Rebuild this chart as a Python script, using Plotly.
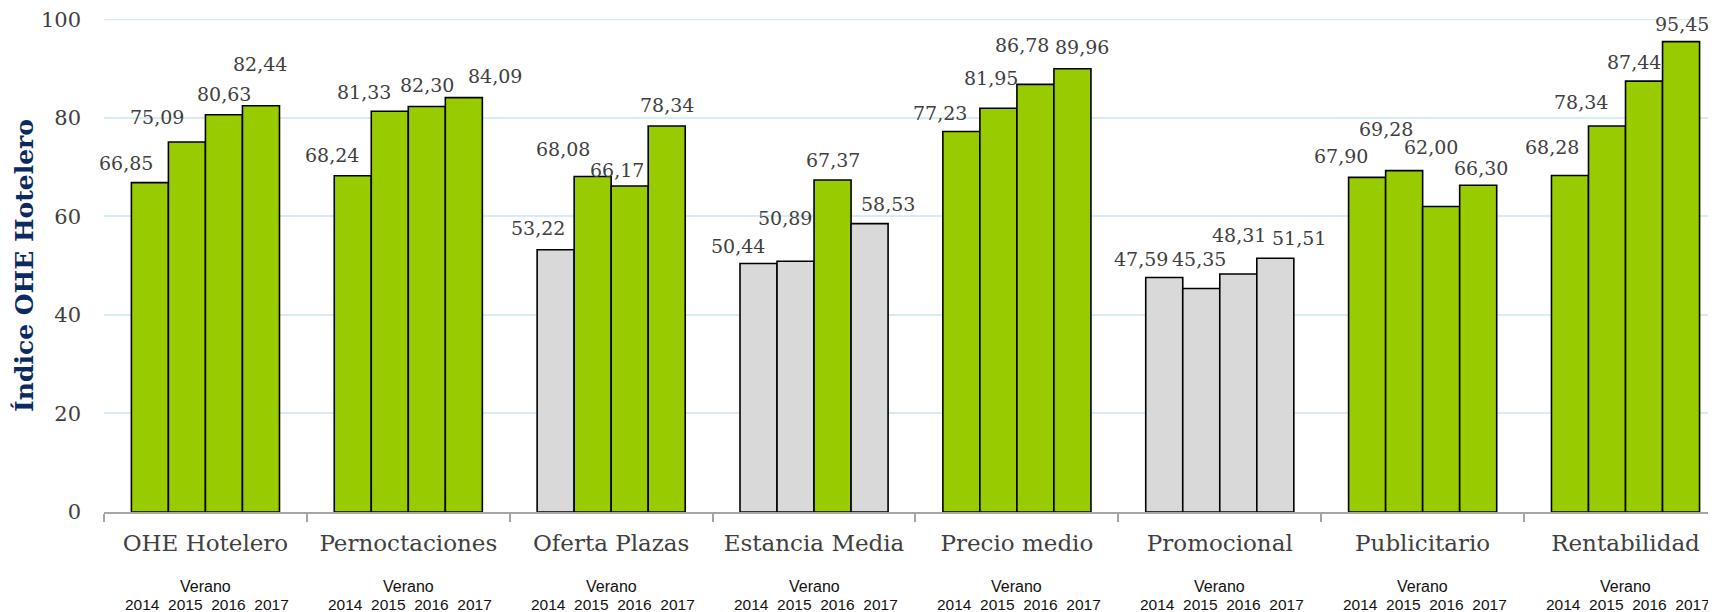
import plotly.graph_objects as go

categories = ["OHE Hotelero", "Pernoctaciones", "Oferta Plazas", "Estancia Media",
              "Precio medio", "Promocional", "Publicitario", "Rentabilidad"]
years = ["2014", "2015", "2016", "2017"]
v2014 = [66.85, 68.24, 53.22, 50.44, 77.23, 47.59, 67.90, 68.28]
v2015 = [75.09, 81.33, 68.08, 50.89, 81.95, 45.35, 69.28, 78.34]
v2016 = [80.63, 82.30, 66.17, 67.37, 86.78, 48.31, 62.00, 87.44]
v2017 = [82.44, 84.09, 78.34, 58.53, 89.96, 51.51, 66.30, 95.45]
series = [v2014, v2015, v2016, v2017]
y_ticks = [0, 20, 40, 60, 80, 100]
threshold = 60

# pixel nudges of the value labels (as manually placed in the original)
label_dx = [[-24, -30, 0, -1], [-21, -26, 0, 31], [-18, -30, -13, 0], [-21, -11, 0, 18],
            [-21, -7, -13, 10], [-23, -2, 1, 24], [-26, -18, -10, 3], [-18, -26, -10, 1]]
label_dy = [[20, 25, 21, 42], [21, 19, 21, 22], [22, 28, 16, 21], [17, 43, 20, 20],
            [18, 30, 39, 22], [19, 30, 39, 20], [21, 42, 59, 17], [29, 24, 19, 18]]

GREEN = "#99CC00"
GRAY = "#D9D9D9"
TXT = "#404040"
SERIF = "DejaVu Serif"
GRID = "#D9ECF5"

bargap = 0.27
fig = go.Figure()
for yi, vals in enumerate(series):
    fig.add_trace(go.Bar(
        x=categories, y=vals, name="Verano " + years[yi],
        marker=dict(color=[GREEN if v >= threshold else GRAY for v in vals],
                    line=dict(color="black", width=1.6)),
        showlegend=False, hoverinfo="x+y+name"))

bw = (1 - bargap) / len(series)
annotations = []
for gi, cat in enumerate(categories):
    for yi, vals in enumerate(series):
        v = vals[gi]
        annotations.append(dict(
            x=gi + (yi - 1.5) * bw, y=v, xref="x", yref="y",
            text=f"{v:.2f}".replace(".", ","), showarrow=False,
            xanchor="center", yanchor="middle",
            xshift=label_dx[gi][yi], yshift=label_dy[gi][yi],
            font=dict(family=SERIF, size=19, color=TXT)))
    annotations.append(dict(
        x=gi, y=0, xref="x", yref="paper", text="Verano", showarrow=False,
        xanchor="center", yanchor="middle", yshift=-74,
        font=dict(family="Liberation Sans", size=16, color="#111111")))
    annotations.append(dict(
        x=gi, y=0, xref="x", yref="paper", text="  ".join(years), showarrow=False,
        xanchor="center", yanchor="middle", xshift=2, yshift=-92,
        font=dict(family="Liberation Sans", size=15.5, color="#111111")))

fig.update_layout(
    width=1708, height=604,
    margin=dict(l=96, r=0, t=11, b=100),
    paper_bgcolor="white", plot_bgcolor="white",
    barmode="group", bargap=bargap, bargroupgap=0,
    annotations=annotations,
    shapes=[dict(type="line", xref="paper", yref="y", x0=0, x1=1,
                 y0=max(y_ticks), y1=max(y_ticks), layer="below",
                 line=dict(color=GRID, width=2))],
    xaxis=dict(
        type="category", range=[-0.5, 7.446],
        showline=True, linecolor="#A6A6A6", linewidth=1.5,
        ticks="outside", tickson="boundaries", ticklen=8, tickcolor="#A6A6A6", tickwidth=1.5,
        tickfont=dict(family=SERIF, size=23, color=TXT),
        ticklabelstandoff=10,
        showgrid=False, zeroline=False),
    yaxis=dict(
        range=[0, 100.05], tickvals=y_ticks, ticktext=[str(t) for t in y_ticks],
        showgrid=True, gridcolor=GRID, gridwidth=2,
        zeroline=False, showline=False, ticks="",
        ticklabelstandoff=22, ticklabeloverflow="allow",
        tickfont=dict(family=SERIF, size=21, color=TXT),
        title=dict(text="<b>Índice OHE Hotelero</b>", standoff=0,
                   font=dict(family=SERIF, size=25, color="#0B2A5E"))),
)

fig.write_html("out.html")
